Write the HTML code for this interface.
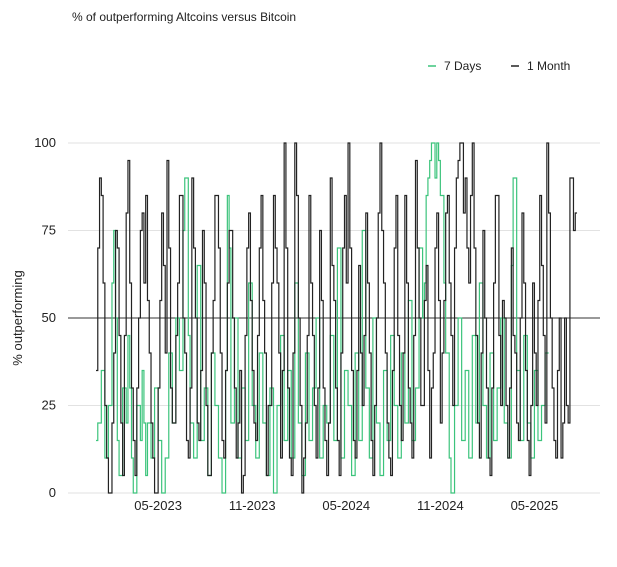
<!DOCTYPE html>
<html><head><meta charset="utf-8"><style>
body{margin:0;background:#fff;font-family:"Liberation Sans",sans-serif;}
svg text{font-family:"Liberation Sans",sans-serif;fill:#222;}
</style></head><body>
<svg width="617" height="562" xmlns="http://www.w3.org/2000/svg">
<text x="72" y="21" font-size="12">% of outperforming Altcoins versus Bitcoin</text>
<g>
<line x1="428" y1="66" x2="436" y2="66" stroke="#3cc47c" stroke-width="1.5"/>
<text x="444" y="70" font-size="12">7 Days</text>
<line x1="511" y1="66" x2="519" y2="66" stroke="#222" stroke-width="1.5"/>
<text x="527" y="70" font-size="12">1 Month</text>
</g>
<text transform="translate(22,318) rotate(-90)" text-anchor="middle" font-size="13">% outperforming</text>
<g id="grid"></g><g id="series"></g><g id="ticks"></g>
</svg>
<script>
const yTicks=[0,25,50,75,100];
const xTickLabels=["05-2023","11-2023","05-2024","11-2024","05-2025"];
const xTickWeeks=[17.5,44,70.5,97,123.5];
const month=[35,70,90,85,60,25,10,0,0,20,40,75,70,45,20,5,45,80,95,60,30,15,5,30,50,75,80,60,85,55,40,20,10,0,0,30,55,80,65,40,95,70,30,20,20,45,60,85,85,50,40,15,10,30,90,70,50,20,15,35,75,60,25,5,5,40,55,85,85,70,40,15,10,35,60,75,75,50,30,10,20,35,0,5,45,70,80,55,35,20,15,45,70,85,55,40,5,25,25,60,85,70,60,40,10,35,100,70,30,10,5,40,100,85,50,25,0,10,20,45,85,60,45,25,10,30,75,55,30,15,5,20,90,65,55,30,15,5,40,70,85,60,100,70,35,15,10,35,65,40,25,45,80,60,40,15,5,25,50,80,100,75,60,40,20,10,5,35,70,85,45,25,15,40,85,60,30,20,10,45,95,70,50,25,25,55,65,35,10,30,40,70,80,55,20,40,55,80,85,60,45,25,70,90,95,100,100,80,90,70,60,85,100,70,45,20,10,40,75,50,30,10,5,30,60,85,85,45,25,55,50,25,10,30,70,45,40,20,15,50,80,60,35,15,5,25,60,40,25,55,85,65,45,20,100,80,50,30,15,10,35,50,10,20,50,25,20,90,90,75,80];
const week=[15,20,20,35,35,10,10,25,25,60,75,50,15,5,5,30,30,20,45,30,10,0,0,25,25,15,35,20,5,20,20,10,10,30,30,15,15,0,0,10,10,40,40,20,20,50,50,35,35,75,90,90,45,20,20,10,10,65,65,15,15,30,30,5,5,40,40,25,25,10,10,0,0,35,85,70,20,20,50,50,10,10,30,30,15,15,60,60,25,25,10,10,40,40,20,20,5,5,30,30,0,0,25,25,45,45,15,15,35,35,10,10,60,60,20,20,5,5,40,40,15,15,30,30,50,50,10,10,25,25,20,20,45,45,15,15,70,70,10,10,35,35,25,25,5,5,40,40,15,15,75,75,30,30,10,10,50,50,20,20,5,5,35,35,15,15,45,45,25,25,10,10,40,40,20,20,55,55,15,15,30,30,70,70,50,60,85,90,95,100,100,90,100,95,85,85,60,40,40,10,0,0,25,25,50,50,15,15,35,35,10,10,45,45,20,20,60,60,25,25,10,10,40,40,15,15,30,30,50,50,20,20,10,10,65,90,90,35,35,15,15,45,45,20,20,10,10,35,35,15,15,25,25,40,40];
const NS="http://www.w3.org/2000/svg";
const x=i=>96+i*1.775;
const xw=w=>96+w*3.55;
const y=v=>493-v*3.5;
const grid=document.getElementById('grid'),ser=document.getElementById('series'),tk=document.getElementById('ticks');
function mk(tag,attrs,parent){const e=document.createElementNS(NS,tag);for(const k in attrs)e.setAttribute(k,attrs[k]);parent.appendChild(e);return e;}
yTicks.forEach(v=>{
 const l=mk('line',{x1:68,x2:600,y1:y(v),y2:y(v),stroke:v===50?'#333':'#e2e2e2','stroke-width':1},grid);
 
 
 const t=mk('text',{x:56,y:y(v)+4,'text-anchor':'end','font-size':13},tk);
 t.textContent=v;
 
 
});
xTickLabels.forEach((s,i)=>{
 const t=mk('text',{x:xw(xTickWeeks[i]),y:510,'text-anchor':'middle','font-size':13},tk);
 t.textContent=s;
 
 
});
function step(arr){let d='M'+x(0)+','+y(arr[0]);for(let i=1;i<arr.length;i++){d+='H'+x(i)+'V'+y(arr[i]);}d+='H'+x(arr.length);return d;}
const p1=mk('path',{d:step(week),fill:'none',stroke:'#3cc47c','stroke-width':1.2},ser);


const p2=mk('path',{d:step(month),fill:'none',stroke:'#222','stroke-width':1.2},ser);


</script>
</body></html>
